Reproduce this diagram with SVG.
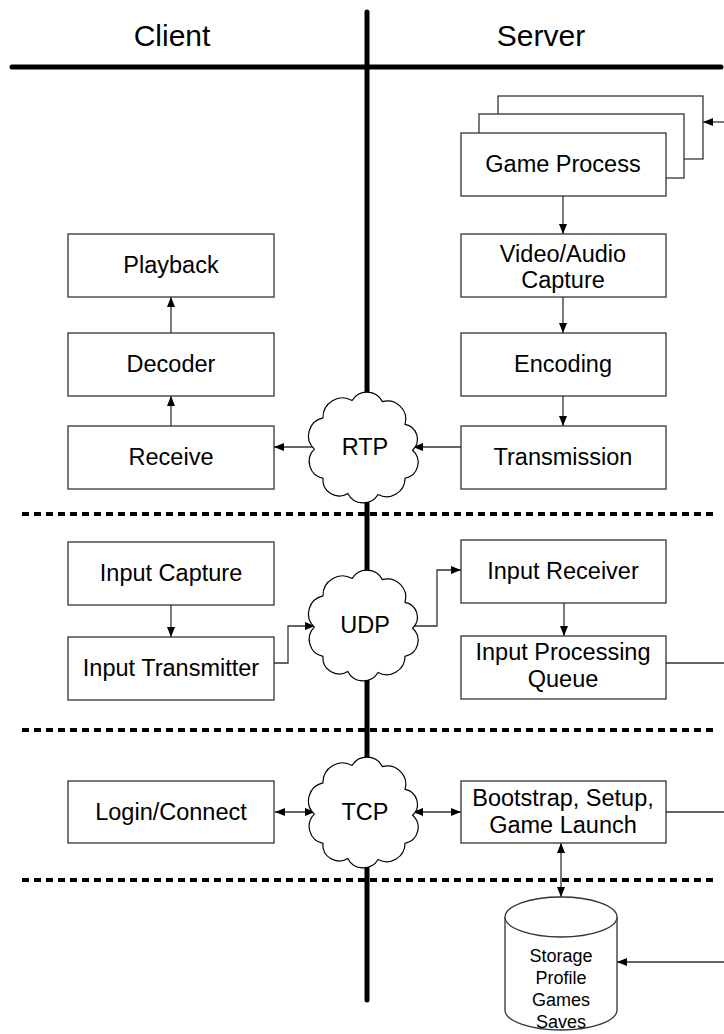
<svg xmlns="http://www.w3.org/2000/svg" width="724" height="1034" viewBox="0 0 724 1034">
<style>
.box{fill:#fff;stroke:#333;stroke-width:1.3}
.t{font-family:"Liberation Sans",Arial,sans-serif;font-size:23.5px;fill:#000;text-anchor:middle}
.h{font-family:"Liberation Sans",Arial,sans-serif;font-size:30px;fill:#000;text-anchor:middle}
.s{font-family:"Liberation Sans",Arial,sans-serif;font-size:18px;fill:#000;text-anchor:middle}
.c{fill:none;stroke:#333;stroke-width:1.3}
.a{marker-end:url(#ah)}
.b{marker-end:url(#ah);marker-start:url(#ah)}
.dash{fill:none;stroke:#000;stroke-width:4;stroke-dasharray:7 5}
.cloud{fill:#fff;stroke:#000;stroke-width:1.1}
</style>
<defs>
<marker id="ah" markerUnits="userSpaceOnUse" viewBox="0 0 10 8" refX="10" refY="4" markerWidth="10" markerHeight="8" orient="auto-start-reverse">
<path d="M0,0 L10,4 L0,8 z" fill="#000"/>
</marker>
<path id="cl" d="M-46,2 A17,17 0 0 1 -38,-27 A18,18 0 0 1 -11,-43 A16,16 0 0 1 17,-42 A17,17 0 0 1 38,-21 A14,14 0 0 1 45,3 A15,15 0 0 1 38,29 A17,17 0 0 1 13,44 A16,16 0 0 1 -15,43 A15,15 0 0 1 -38,29 A16,16 0 0 1 -46,2 Z"/>
</defs>

<g id="frame">
<line x1="12" y1="67" x2="721" y2="67" stroke="#000" stroke-width="5" stroke-linecap="round"/>
<line x1="367" y1="12" x2="367" y2="1000" stroke="#000" stroke-width="5" stroke-linecap="round"/>
<text class="h" x="172" y="46">Client</text>
<text class="h" x="541" y="46">Server</text>
<line class="dash" x1="22" y1="514" x2="718" y2="514"/>
<line class="dash" x1="22" y1="730" x2="718" y2="730"/>
<line class="dash" x1="22" y1="880" x2="718" y2="880"/>
</g>

<g id="connectors">
<line class="c a" x1="724" y1="122" x2="703" y2="122"/>
<line class="c a" x1="563" y1="196" x2="563" y2="234"/>
<line class="c a" x1="563" y1="297" x2="563" y2="333"/>
<line class="c a" x1="563" y1="396" x2="563" y2="426"/>
<line class="c a" x1="461" y1="447" x2="413" y2="447"/>
<line class="c a" x1="315" y1="447" x2="274" y2="447"/>
<line class="c a" x1="171" y1="426" x2="171" y2="396"/>
<line class="c a" x1="171" y1="333" x2="171" y2="297"/>
<line class="c a" x1="171" y1="605" x2="171" y2="637"/>
<polyline class="c a" points="274,663 288,663 288,626 315,626"/>
<polyline class="c a" points="413,626 437,626 437,570 461,570"/>
<line class="c a" x1="564" y1="603" x2="564" y2="636"/>
<line class="c" x1="666" y1="663" x2="724" y2="663"/>
<line class="c b" x1="275" y1="812" x2="315" y2="812"/>
<line class="c b" x1="413" y1="812" x2="461" y2="812"/>
<line class="c" x1="666" y1="812" x2="724" y2="812"/>
<line class="c b" x1="561" y1="843" x2="561" y2="897"/>
<line class="c a" x1="724" y1="962" x2="617" y2="962"/>
</g>

<g id="game-process">
<rect class="box" x="498" y="96" width="205" height="63"/>
<rect class="box" x="479" y="114" width="205" height="64"/>
<rect class="box" x="461" y="133" width="205" height="63"/>
<text class="t" x="563" y="172">Game Process</text>
</g>
<g id="video-audio-capture">
<rect class="box" x="461" y="234" width="205" height="63"/>
<text class="t" x="563" y="262">Video/Audio</text>
<text class="t" x="563" y="288">Capture</text>
</g>
<g id="encoding">
<rect class="box" x="461" y="333" width="205" height="63"/>
<text class="t" x="563" y="372">Encoding</text>
</g>
<g id="transmission">
<rect class="box" x="461" y="426" width="205" height="63"/>
<text class="t" x="563" y="465">Transmission</text>
</g>
<g id="playback">
<rect class="box" x="68" y="234" width="206" height="63"/>
<text class="t" x="171" y="273">Playback</text>
</g>
<g id="decoder">
<rect class="box" x="68" y="333" width="206" height="63"/>
<text class="t" x="171" y="372">Decoder</text>
</g>
<g id="receive">
<rect class="box" x="68" y="426" width="206" height="63"/>
<text class="t" x="171" y="465">Receive</text>
</g>
<g id="rtp">
<use href="#cl" class="cloud" transform="translate(364,447) scale(1.08)"/>
<text class="t" x="365" y="455">RTP</text>
</g>

<g id="input-capture">
<rect class="box" x="68" y="542" width="206" height="63"/>
<text class="t" x="171" y="581">Input Capture</text>
</g>
<g id="input-transmitter">
<rect class="box" x="68" y="637" width="206" height="63"/>
<text class="t" x="171" y="676">Input Transmitter</text>
</g>
<g id="udp">
<use href="#cl" class="cloud" transform="translate(364,625) scale(1.08)"/>
<text class="t" x="365" y="633">UDP</text>
</g>
<g id="input-receiver">
<rect class="box" x="461" y="540" width="205" height="63"/>
<text class="t" x="563" y="579">Input Receiver</text>
</g>
<g id="input-processing-queue">
<rect class="box" x="461" y="636" width="205" height="63"/>
<text class="t" x="563" y="660">Input Processing</text>
<text class="t" x="563" y="687">Queue</text>
</g>

<g id="login-connect">
<rect class="box" x="68" y="781" width="206" height="62"/>
<text class="t" x="171" y="820">Login/Connect</text>
</g>
<g id="tcp">
<use href="#cl" class="cloud" transform="translate(364,812) scale(1.08)"/>
<text class="t" x="365" y="820">TCP</text>
</g>
<g id="bootstrap">
<rect class="box" x="461" y="781" width="205" height="62"/>
<text class="t" x="563" y="806">Bootstrap, Setup,</text>
<text class="t" x="563" y="833">Game Launch</text>
</g>
<g id="storage">
<path class="box" d="M505,917 L505,1010 A56,20 0 0 0 617,1010 L617,917"/>
<ellipse class="box" cx="561" cy="917" rx="56" ry="20"/>
<text class="s" x="561" y="962">Storage</text>
<text class="s" x="561" y="984">Profile</text>
<text class="s" x="561" y="1006">Games</text>
<text class="s" x="561" y="1028">Saves</text>
</g>
</svg>
